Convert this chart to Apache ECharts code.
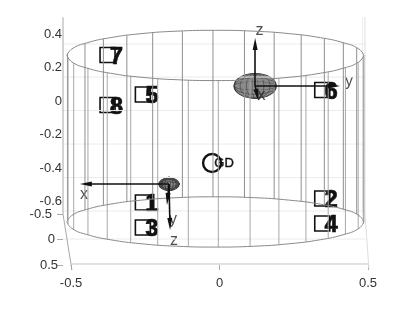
<!DOCTYPE html>
<html>
<head>
<meta charset="utf-8">
<style>
html,body{margin:0;padding:0;background:#fff}
#chart{width:410px;height:319px;filter:blur(0.5px)}
</style>
<script src="https://cdn.jsdelivr.net/npm/echarts@6/dist/echarts.min.js"></script>
</head>
<body>
<div id="chart"></div>
<script>
// tick labels
const xTicks = [-0.5, 0, 0.5];
const zTicks = [-0.6, -0.4, -0.2, 0, 0.2, 0.4];
const yTicks = [-0.5, 0, 0.5];

// cylinder rings
const ringX = [0.486,0.469,0.419,0.340,0.236,0.115,-0.014,-0.143,-0.264,-0.368,-0.447,-0.497,-0.514];
const topBackZ = [0.272,0.311,0.347,0.378,0.402,0.417,0.422,0.417,0.402,0.378,0.347,0.311,0.272];
const topFrontZ = [0.272,0.233,0.197,0.166,0.142,0.127,0.122,0.127,0.142,0.166,0.197,0.233,0.272];
const bottomBackZ = [-0.722,-0.683,-0.647,-0.616,-0.592,-0.577,-0.572,-0.577,-0.592,-0.616,-0.647,-0.683,-0.722];
const bottomFrontZ = [-0.722,-0.761,-0.797,-0.828,-0.852,-0.867,-0.872,-0.867,-0.852,-0.828,-0.797,-0.761,-0.722];

// cylinder rods
const backRodX = [-0.512,-0.453,-0.391,-0.312,-0.225,-0.125,-0.022,0.084,0.184,0.275,0.353,0.417,0.462,0.486];
const backRodTop = [0.285,0.344,0.371,0.392,0.408,0.418,0.422,0.419,0.410,0.394,0.374,0.348,0.318,0.272];
const backRodBottom = [-0.709,-0.650,-0.623,-0.602,-0.586,-0.576,-0.572,-0.575,-0.584,-0.600,-0.620,-0.646,-0.676,-0.722];
const frontRodX = [-0.510,-0.491,-0.443,-0.378,-0.299,-0.208,-0.105,-0.004,0.103,0.200,0.291,0.366,0.424,0.467,0.484];
const frontRodTop = [0.259,0.227,0.195,0.169,0.149,0.134,0.125,0.122,0.126,0.136,0.153,0.175,0.199,0.231,0.259];
const frontRodBottom = [-0.735,-0.767,-0.799,-0.825,-0.845,-0.860,-0.869,-0.872,-0.868,-0.858,-0.841,-0.819,-0.795,-0.763,-0.735];

// numbered square markers
const markerNames = ['1','2','3','4','5','6','7','8'];
const markerX = [-0.258,0.346,-0.258,0.346,-0.258,0.346,-0.377,-0.377];
const markerZ = [-0.606,-0.582,-0.755,-0.731,0.039,0.066,0.275,-0.024];

// centre marker
const centreName = 'GD';
const centreX = -0.025;
const centreZ = -0.37;

// coordinate frames: origin, tips
const frameAOrigin = [0.12, 0.09];
const frameATips = [[0.127,0.036],[0.386,0.09],[0.12,0.34]];
const frameBOrigin = [-0.17, -0.496];
const frameBTips = [[-0.45,-0.496],[-0.175,-0.585],[-0.167,-0.734]];
const frameTexts = [
  ['x',0.141,0.03],['y',0.436,0.113],['z',0.135,0.418],
  ['x',-0.456,-0.561],['y',-0.157,-0.71],['z',-0.153,-0.836]
];

// wall / floor lines
const gridLineZ = [0.34,0.143,-0.057,-0.257,-0.457,-0.657,-0.824];
const wallLeft = [[-0.527,0.5],[-0.527,-0.675],[-0.497,-1.009]];
const wallRight = [[0.49,0.5],[0.49,-0.675],[0.503,-1.0]];
const wallRight2 = [[0.482,0.5],[0.482,-0.66]];
const floorLine = [[-0.5,-0.973],[0.5,-0.973]];
const xMin = -0.527, xMax = 0.5135;

const line = (data, color, width, extra) => Object.assign({
  type:'line', data, symbol:'none', silent:true, animation:false, clip:false,
  lineStyle:{color, width}, xAxisIndex:0, yAxisIndex:0
}, extra||{});

const arrow = (origin, tip) => [{coord:origin},{coord:tip}];

const series = [];
gridLineZ.forEach(z => series.push(line([[xMin,z],[0.49,z]], '#ececec', 1)));
series.push(line(wallLeft, '#a8a8a8', 1));
series.push(line(wallRight, '#dedede', 1));
series.push(line(wallRight2, '#ececec', 1));
series.push(line(floorLine, '#c4c4c4', 1));
backRodX.forEach((x,i) => series.push(line([[x,backRodTop[i]],[x,backRodBottom[i]]], '#8f8f8f', 1)));
frontRodX.forEach((x,i) => series.push(line([[x,frontRodTop[i]],[x,frontRodBottom[i]]], '#a8a8a8', 1)));
[topBackZ,topFrontZ,bottomBackZ,bottomFrontZ].forEach(zs =>
  series.push(line(ringX.map((x,i)=>[x,zs[i]]), '#8a8a8a', 1, {smooth:true})));

// ellipsoid: a filled ellipse plus hollow ellipses acting as its mesh
const ellipsoid = (pos, w, h, lw) => {
  const out = [{
    type:'scatter', data:[pos], symbol:'circle', symbolSize:[w,h], silent:true, animation:false,
    itemStyle:{color:'#8a8a8a', borderColor:'#3a3a3a', borderWidth:1, opacity:1}
  }];
  [[w,h*0.68],[w,h*0.34],[w*0.72,h],[w*0.42,h],[w*0.14,h]].forEach(s => out.push({
    type:'scatter', data:[pos], symbol:'circle', symbolSize:s, silent:true, animation:false,
    itemStyle:{color:'rgba(0,0,0,0)', borderColor:'#3f3f3f', borderWidth:lw, opacity:1}
  }));
  return out;
};
series.push(...ellipsoid(frameAOrigin,42,25,0.6));
series.push(...ellipsoid(frameBOrigin,20,13,1.2));

series.push(line([], '#000', 1, {
  markLine:{silent:true, animation:false, symbol:['none','triangle'], symbolSize:[5,12],
    lineStyle:{color:'#111', width:1.6, type:'solid'}, label:{show:false},
    data:frameATips.concat(frameBTips).map((t,i)=>arrow(i<3?frameAOrigin:frameBOrigin,t))}
}));

series.push({
  type:'scatter', data:frameTexts.map(t=>({value:[t[1],t[2]],name:t[0]})), symbolSize:0, silent:true, animation:false,
  label:{show:true, position:'inside', formatter:p=>p.name, color:'#222', fontSize:16, fontFamily:'Liberation Sans'}
});

series.push({
  type:'scatter', data:markerNames.map((n,i)=>({value:[markerX[i],markerZ[i]],name:n})),
  symbol:'rect', symbolSize:15, silent:true, animation:false,
  itemStyle:{color:'rgba(255,255,255,0)', borderColor:'#111', borderWidth:1.6, opacity:1},
  label:{show:true, position:'inside', offset:[9,2], formatter:p=>p.name, color:'#111',
    fontSize:24, fontWeight:'bold', fontFamily:'Liberation Sans', textBorderColor:'#111', textBorderWidth:0.6}
});

series.push({
  type:'scatter', data:[{value:[centreX,centreZ],name:centreName}], symbol:'circle', symbolSize:18, silent:true, animation:false,
  itemStyle:{color:'rgba(255,255,255,0)', borderColor:'#111', borderWidth:2.4, opacity:1},
  label:{show:true, position:'inside', offset:[12,0], formatter:p=>p.name, color:'#111', fontSize:13, fontFamily:'Liberation Sans', textBorderColor:'#111', textBorderWidth:0.4}
});

const tickLabel = {color:'#333', fontSize:13, fontFamily:'Liberation Sans'};
const option = {
  animation:false,
  backgroundColor:'#fff',
  grid:{left:63, right:38, top:17, bottom:54},
  xAxis:{type:'value', min:xMin, max:xMax, splitLine:{show:false}, axisLine:{show:false,onZero:false},
    axisTick:{show:true, customValues:xTicks, length:5, lineStyle:{color:'#aaa'}},
    axisLabel:Object.assign({show:true, customValues:xTicks, margin:12, formatter:v=>String(v), showMinLabel:true, showMaxLabel:true},tickLabel)},
  yAxis:[
    {type:'value', min:-0.979, max:0.5015, position:'left', splitLine:{show:false}, axisLine:{show:false,onZero:false}, axisTick:{show:false},
     axisLabel:Object.assign({show:true, customValues:zTicks, margin:1, formatter:v=>String(v)},tickLabel)},
    {type:'value', inverse:true, min:-4.363, max:0.5, position:'left', splitLine:{show:false}, axisLine:{show:false,onZero:false},
     axisTick:{show:true, customValues:yTicks, length:6, lineStyle:{color:'#aaa'}},
     axisLabel:Object.assign({show:true, customValues:yTicks, margin:5,
       formatter:v=>v<0?'{a|'+v+'}':(v===0?'{b|0}':'{c|'+v+'}'),
       rich:{a:Object.assign({padding:[0,6,0,0]},tickLabel), b:Object.assign({padding:[0,3,0,0]},tickLabel), c:Object.assign({padding:[0,0,0,0]},tickLabel)}},tickLabel)}
  ],
  series
};
echarts.init(document.getElementById('chart'),null,{renderer:'canvas'}).setOption(option);
</script>
</body>
</html>
